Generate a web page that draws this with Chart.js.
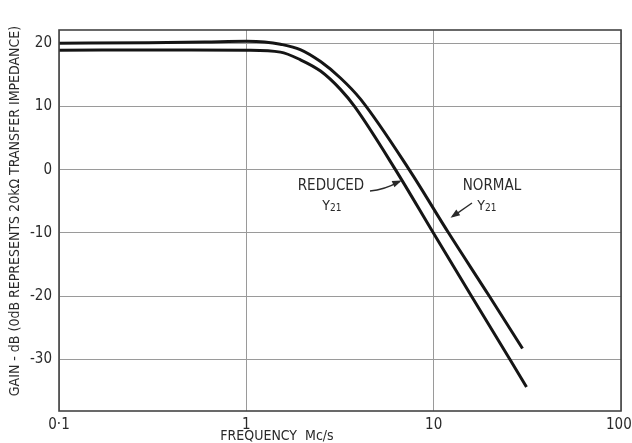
<!DOCTYPE html>
<html>
<head>
<meta charset="utf-8">
<script src="https://cdn.jsdelivr.net/npm/chart.js@4"></script>
<style>
  body { margin: 0; background: #fff; }
</style>
</head>
<body>
<canvas id="grafico" width="632" height="443"></canvas>
<script>
// Curva NORMAL (Y21 normal)
const freqNormal = [0.1, 0.3, 0.6, 1.0, 1.25, 1.52, 1.94, 2.49, 3.18, 4.07, 7.4, 12.0, 19.8, 29.8];
const gainNormal = [20.0, 20.1, 20.2, 20.3, 20.2, 19.85, 19.0, 17.1, 14.5, 11.15, 0, -10, -20, -28.3];

// Curva REDUCED (Y21 reducido)
const freqReduced = [0.1, 0.5, 1.0, 1.52, 1.94, 2.49, 3.18, 3.78, 6.25, 9.95, 15.9, 25.5, 31.3];
const gainReduced = [18.9, 18.95, 18.9, 18.6, 17.4, 15.6, 12.7, 10, 0, -10, -20, -30, -34.4];

// Marcas de los ejes
const xTicks = [0.1, 1, 10, 100];
const xTickLabels = ['0·1', '1', '10', '100 '];
const yTicks = [20, 10, 0, -10, -20, -30];

const yTitle = 'GAIN - dB (0dB REPRESENTS 20kΩ TRANSFER IMPEDANCE)';
const xTitle = 'FREQUENCY  Mc/s';

const FONT = '"DejaVu Sans Condensed", "DejaVu Sans", sans-serif';
const INK = '#2a2a2a';

function toPoints(xs, ys) {
    return xs.map((x, i) => ({ x: x, y: ys[i] }));
}

function arrowHead(ctx, tipX, tipY, fromX, fromY, size) {
    const ang = Math.atan2(tipY - fromY, tipX - fromX);
    ctx.beginPath();
    ctx.moveTo(tipX, tipY);
    ctx.lineTo(tipX - size * Math.cos(ang - 0.35), tipY - size * Math.sin(ang - 0.35));
    ctx.lineTo(tipX - size * Math.cos(ang + 0.35), tipY - size * Math.sin(ang + 0.35));
    ctx.closePath();
    ctx.fill();
}

function drawY21(ctx, cx, cy) {
    ctx.font = '14px ' + FONT;
    ctx.textAlign = 'right';
    ctx.fillText('Y', cx - 1, cy);
    ctx.font = '10px ' + FONT;
    ctx.textAlign = 'left';
    ctx.fillText('21', cx - 1, cy + 2);
    ctx.textAlign = 'center';
}

// Marco, titulos y anotaciones
const decorPlugin = {
    id: 'decor',
    afterDraw(chart) {
        const ctx = chart.ctx;
        const a = chart.chartArea;
        const xs = chart.scales.x;
        const ys = chart.scales.y;
        ctx.save();

        // marco del area
        ctx.strokeStyle = '#444';
        ctx.lineWidth = 1.6;
        ctx.strokeRect(a.left, a.top, a.right - a.left, a.bottom - a.top);

        ctx.fillStyle = INK;
        ctx.strokeStyle = INK;

        // titulo eje Y
        ctx.save();
        ctx.translate(15, 211);
        ctx.rotate(-Math.PI / 2);
        ctx.font = '14px ' + FONT;
        ctx.textAlign = 'center';
        ctx.textBaseline = 'middle';
        ctx.fillText(yTitle, 0, 0, 400);
        ctx.restore();

        // titulo eje X
        ctx.font = '14px ' + FONT;
        ctx.textAlign = 'center';
        ctx.textBaseline = 'middle';
        ctx.fillText(xTitle, 277, 436);

        // etiquetas de las curvas
        ctx.font = '15px ' + FONT;
        ctx.fillText('REDUCED', 331, 186);
        ctx.fillText('NORMAL', 492, 186);
        drawY21(ctx, 331, 206);
        drawY21(ctx, 486, 206);

        // flecha REDUCED -> curva inferior
        const rTipX = xs.getPixelForValue(6.75);
        const rTipY = ys.getPixelForValue(-1.7);
        ctx.lineWidth = 1.4;
        ctx.beginPath();
        ctx.moveTo(370, 191);
        ctx.quadraticCurveTo(384, 190, rTipX - 2, rTipY + 1);
        ctx.stroke();
        arrowHead(ctx, rTipX, rTipY, 384, 188, 10);

        // flecha NORMAL -> curva superior
        const nTipX = xs.getPixelForValue(12.3);
        const nTipY = ys.getPixelForValue(-7.6);
        ctx.beginPath();
        ctx.moveTo(472, 203);
        ctx.lineTo(nTipX + 2, nTipY - 1);
        ctx.stroke();
        arrowHead(ctx, nTipX, nTipY, 472, 203, 10);

        ctx.restore();
    }
};

const canvas = document.getElementById('grafico');
const ctx = canvas.getContext('2d');

const myChart = new Chart(ctx, {
    type: 'scatter',
    data: {
        datasets: [{
            label: 'NORMAL Y21',
            data: toPoints(freqNormal, gainNormal),
            showLine: true,
            borderColor: '#151515',
            borderWidth: 3,
            pointRadius: 0,
            cubicInterpolationMode: 'monotone',
        }, {
            label: 'REDUCED Y21',
            data: toPoints(freqReduced, gainReduced),
            showLine: true,
            borderColor: '#151515',
            borderWidth: 3,
            pointRadius: 0,
            cubicInterpolationMode: 'monotone',
        }],
    },
    options: {
        responsive: false,
        animation: false,
        layout: { padding: { top: 30, right: 11, left: 0, bottom: 0 } },
        plugins: {
            legend: { display: false },
            tooltip: { enabled: false },
        },
        scales: {
            x: {
                type: 'logarithmic',
                min: 0.1,
                max: 100,
                afterBuildTicks: (scale) => {
                    scale.ticks = xTicks.map(v => ({ value: v }));
                },
                afterFit: (scale) => {
                    scale.height = 32;
                    scale.paddingLeft = 0;
                    scale.paddingRight = 0;
                },
                grid: { color: '#9a9a9a', lineWidth: 1, drawTicks: false },
                border: { display: false },
                ticks: {
                    padding: 5,
                    color: INK,
                    font: { family: FONT, size: 15 },
                    maxRotation: 0,
                    autoSkip: false,
                    callback: (value) => {
                        const i = xTicks.indexOf(value);
                        return i >= 0 ? xTickLabels[i] : '';
                    },
                },
            },
            y: {
                min: -38.2,
                max: 22.1,
                afterBuildTicks: (scale) => {
                    scale.ticks = yTicks.map(v => ({ value: v }));
                },
                afterFit: (scale) => {
                    scale.width = 59;
                    scale.paddingTop = 0;
                    scale.paddingBottom = 0;
                },
                grid: { color: '#9a9a9a', lineWidth: 1, drawTicks: false },
                border: { display: false },
                ticks: {
                    padding: 7,
                    color: INK,
                    font: { family: FONT, size: 15 },
                    autoSkip: false,
                },
            },
        },
    },
    plugins: [decorPlugin],
});
</script>
</body>
</html>
